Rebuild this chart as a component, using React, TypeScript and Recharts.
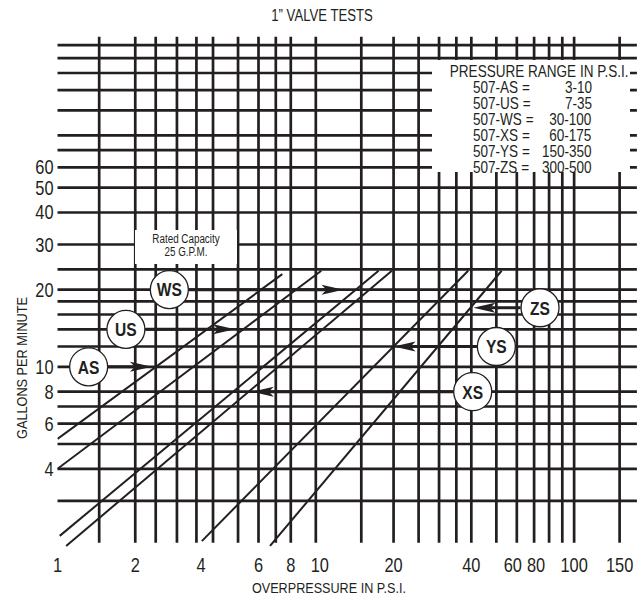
import { Line, LineChart, ReferenceDot, ReferenceLine, XAxis, YAxis } from 'recharts';

const INK = '#231f20';
const FONT = '"Liberation Sans", Arial, sans-serif';
const SQUEEZE = 0.82; // condensed look

// valve models and their pressure ranges (legend)
const models = ['AS', 'US', 'WS', 'XS', 'YS', 'ZS'];
const pressureRanges = ['3-10', '7-35', '30-100', '60-175', '150-350', '300-500'];

// test lines: start / end points (psi, gpm)
const startPsi = [1.0, 1.0, 1.02, 1.08, 3.62, 6.65];
const startGpm = [5.23, 4.0, 2.19, 2.0, 2.09, 2.0];
const endPsi = [7.42, 10.5, 17.5, 19.7, 38.9, 52.4];
const endGpm = [23.0, 23.7, 23.7, 23.7, 23.7, 23.7];

// callout circles and the arrows pointing to each line
const badgePsi = [1.32, 1.84, 2.71, 40.5, 50, 73.8];
const badgeGpm = [10, 14, 20, 8, 12, 17];
const arrowFromPsi = [1.57, 2.2, 3.23, 34.1, 42, 62.1];
const arrowToPsi = [2.32, 4.87, 12.8, 5.65, 20, 40.7];

// axes
const xTicks = [1, 2, 4, 6, 8, 10, 20, 40, 60, 80, 100, 150];
const yTicks = [4, 6, 8, 10, 20, 30, 40, 50, 60];
const xGrid = [1.45, 2, 2.4, 2.9, 3.45, 4, 5, 6, 7, 8, 10, 15, 20, 25, 30, 35, 40, 50, 60, 70, 80, 90, 100, 150];
const yGrid = [3, 4, 5, 6, 7, 8, 10, 12, 14, 16, 18, 20, 24, 30, 40, 50, 60, 70, 80, 100, 120, 140, 160, 180];

const lineData = models.map((_, i) => [
  { psi: startPsi[i], gpm: startGpm[i] },
  { psi: endPsi[i], gpm: endGpm[i] },
]);

const tickNudge: Record<number, number> = { 4: -12, 10: 4, 60: -4, 80: -13 };

const XTick = (props: any) => {
  const { x, y, payload } = props;
  const v = payload.value;
  return (
    <g transform={`translate(${x + (tickNudge[v] || 0)},${y + 16}) scale(${SQUEEZE},1)`}>
      <text x={0} y={0} dy="0.35em" textAnchor="middle" fill={INK} fontSize={20} fontFamily={FONT}>
        {v}
      </text>
    </g>
  );
};

const YTick = (props: any) => {
  const { x, y, payload } = props;
  return (
    <g transform={`translate(${x},${y}) scale(${SQUEEZE},1)`}>
      <text x={0} y={0} dy="0.35em" textAnchor="end" fill={INK} fontSize={20} fontFamily={FONT}>
        {payload.value}
      </text>
    </g>
  );
};

const Arrow = (p: any) => {
  const { x1, y1, x2, y2 } = p;
  const dir = x2 > x1 ? 1 : -1;
  const back = x2 - dir * 22;
  const notch = x2 - dir * 17;
  return (
    <g>
      <line x1={x1} y1={y1} x2={notch} y2={y2} stroke={INK} strokeWidth={3} />
      <polygon points={`${x2},${y2} ${back},${y2 - 5} ${notch},${y2} ${back},${y2 + 5}`} fill={INK} />
    </g>
  );
};

const Badge = (p: any) => {
  const { cx, cy, name } = p;
  return (
    <g>
      <circle cx={cx} cy={cy} r={19} fill="#fff" stroke={INK} strokeWidth={1.3} />
      <g transform={`translate(${cx},${cy}) scale(${SQUEEZE},1)`}>
        <text x={0} y={0} dy="0.36em" textAnchor="middle" fill={INK} fontSize={19} fontWeight={700} fontFamily={FONT}>
          {name}
        </text>
      </g>
    </g>
  );
};

const squeeze = (origin: string) => ({ transform: `scaleX(${SQUEEZE})`, transformOrigin: origin });

export default function App() {
  return (
    <div style={{ position: 'absolute', left: 0, top: 0, width: 644, height: 597, background: '#fff', fontFamily: FONT, color: INK }}>
      <div style={{ position: 'absolute', left: 0, top: 0 }}>
        <LineChart width={644} height={597} margin={{ top: 36.7, right: 7.1, bottom: 0, left: 0 }}>
          <XAxis dataKey="psi" type="number" scale="log" domain={[1, 175]} allowDataOverflow
            ticks={xTicks} interval={0} tickLine={false} axisLine={false} tickSize={0} tickMargin={0}
            height={48.2} tick={<XTick />} />
          <YAxis type="number" scale="log" domain={[1.95, 194]} allowDataOverflow
            ticks={yTicks} interval={0} tickLine={false} axisLine={false} tickSize={0} tickMargin={4}
            width={57.5} tick={<YTick />} />
          {yGrid.map((v) => (
            <ReferenceLine key={`h${v}`} y={v} stroke={INK} strokeWidth={2.7} />
          ))}
          {xGrid.map((v) => (
            <ReferenceLine key={`v${v}`} segment={[{ x: v, y: 2.06 }, { x: v, y: 194 }]} stroke={INK} strokeWidth={2.7} />
          ))}
          {lineData.map((d, i) => (
            <Line key={models[i]} data={d} dataKey="gpm" type="linear" stroke={INK} strokeWidth={2}
              dot={false} activeDot={false} isAnimationActive={false} />
          ))}
          {models.map((m, i) => (
            <ReferenceLine key={`a${m}`} segment={[{ x: arrowFromPsi[i], y: badgeGpm[i] }, { x: arrowToPsi[i], y: badgeGpm[i] }]}
              shape={<Arrow />} />
          ))}
          {models.map((m, i) => (
            <ReferenceDot key={`b${m}`} x={badgePsi[i]} y={badgeGpm[i]} r={19} shape={<Badge name={m} />} />
          ))}
        </LineChart>
      </div>

      <div style={{ position: 'absolute', left: 0, width: 644, top: 6, textAlign: 'center', fontSize: 16, lineHeight: '20px', ...squeeze('322px 50%') }}>
        1” VALVE TESTS
      </div>

      <div style={{ position: 'absolute', left: 432, top: 60, width: 198, height: 112, background: '#fff', fontSize: 16.5, lineHeight: '16px' }}>
        <div style={{ position: 'absolute', top: 2.7, left: 0, width: 198, textAlign: 'center', whiteSpace: 'nowrap', ...squeeze('50% 50%') }}>
          PRESSURE RANGE IN P.S.I.
        </div>
        {models.map((m, i) => (
          <div key={m} style={{ position: 'absolute', top: 18.7 + i * 16, left: 40.7, width: 119, height: 16, whiteSpace: 'nowrap' }}>
            <span style={{ position: 'absolute', left: 0, ...squeeze('0 50%') }}>{`507-${m} =`}</span>
            <span style={{ position: 'absolute', right: 0, ...squeeze('100% 50%') }}>{pressureRanges[i]}</span>
          </div>
        ))}
      </div>

      <div style={{ position: 'absolute', left: 135, top: 230, width: 102, height: 34, background: '#fff', fontSize: 12, lineHeight: '13.4px', textAlign: 'center' }}>
        <div style={{ paddingTop: 3, ...squeeze('50% 50%') }}>Rated Capacity</div>
        <div style={squeeze('50% 50%')}>25 G.P.M.</div>
      </div>

      <div style={{ position: 'absolute', left: 229, width: 200, top: 579, textAlign: 'center', fontSize: 15.4, lineHeight: '18px', whiteSpace: 'nowrap', ...squeeze('50% 50%') }}>
        OVERPRESSURE IN P.S.I.
      </div>

      <div style={{ position: 'absolute', left: 22 - 100, top: 368 - 9, width: 200, textAlign: 'center', fontSize: 15.5, lineHeight: '18px', whiteSpace: 'nowrap', transform: `rotate(-90deg) scaleX(${SQUEEZE})` }}>
        GALLONS PER MINUTE
      </div>
    </div>
  );
}
